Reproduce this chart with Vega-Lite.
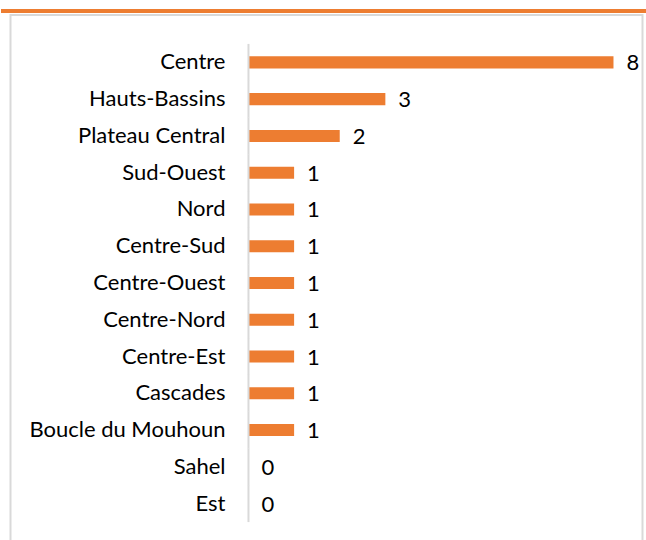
{
  "$schema": "https://vega.github.io/schema/vega-lite/v6.json",
  "background": "white",
  "padding": {"top": 8, "left": 0, "right": 0, "bottom": 0},
  "spacing": 1,
  "center": true,
  "config": {"view": {"stroke": null}, "font": "Lato"},
  "vconcat": [
    {
      "width": 652,
      "height": 4,
      "view": {"fill": "#ED7D31", "stroke": null},
      "data": {"values": [{}]},
      "mark": {"type": "rule", "opacity": 0},
      "encoding": {}
    },
    {
      "width": 632,
      "height": 536,
      "view": {"stroke": "#D9D9D9", "strokeWidth": 2},
      "data": {
        "values": [
          {"region": "Centre", "value": 8},
          {"region": "Hauts-Bassins", "value": 3},
          {"region": "Plateau Central", "value": 2},
          {"region": "Sud-Ouest", "value": 1},
          {"region": "Nord", "value": 1},
          {"region": "Centre-Sud", "value": 1},
          {"region": "Centre-Ouest", "value": 1},
          {"region": "Centre-Nord", "value": 1},
          {"region": "Centre-Est", "value": 1},
          {"region": "Cascades", "value": 1},
          {"region": "Boucle du Mouhoun", "value": 1},
          {"region": "Sahel", "value": 0},
          {"region": "Est", "value": 0}
        ]
      },
      "encoding": {
        "y": {
          "field": "region",
          "type": "nominal",
          "sort": null,
          "axis": null,
          "scale": {"paddingInner": 0, "paddingOuter": 0.79}
        }
      },
      "layer": [
        {
          "mark": {"type": "bar", "color": "#ED7D31", "height": {"band": 0.33}},
          "encoding": {
            "x": {
              "field": "value",
              "type": "quantitative",
              "axis": null,
              "scale": {"domain": [-5.216, 8.636], "nice": false, "zero": false}
            }
          }
        },
        {
          "mark": {"type": "tick", "color": "#D9D9D9", "size": 37, "thickness": 2, "opacity": 1},
          "encoding": {"x": {"datum": 0, "type": "quantitative"}}
        },
        {
          "mark": {"type": "text", "align": "right", "baseline": "middle", "dx": -23, "fontSize": 22, "color": "#000000"},
          "encoding": {
            "x": {"datum": 0, "type": "quantitative"},
            "text": {"field": "region"}
          }
        },
        {
          "mark": {"type": "text", "align": "left", "baseline": "middle", "dx": 13, "dy": 1, "fontSize": 22, "color": "#000000"},
          "encoding": {
            "x": {"field": "value", "type": "quantitative"},
            "text": {"field": "value", "type": "quantitative"}
          }
        }
      ]
    }
  ]
}
